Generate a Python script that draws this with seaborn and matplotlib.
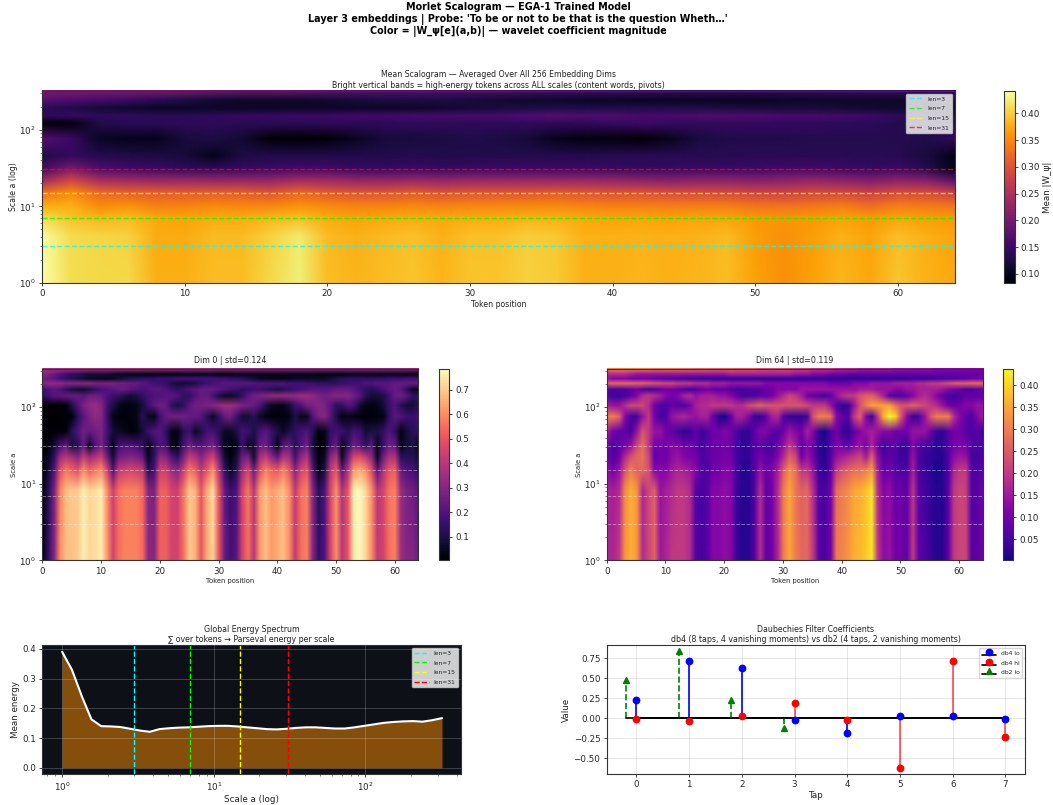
import numpy as np
import matplotlib
matplotlib.use("Agg")
import matplotlib.pyplot as plt
from matplotlib.image import NonUniformImage
import seaborn as sns

# ------------------------
# Data
# ------------------------
TOKENS = list(range(65))
TOKENS_EVEN = list(range(0, 65, 2))
LEN_SCALES = [3, 7, 15, 31]
LEN_LABELS = ["len=3", "len=7", "len=15", "len=31"]
LEN_COLORS = ["cyan", "lime", "yellow", "red"]

# Mean |W| in thousandths, one row per scale, one column per even token
MEAN_SCALES = [1, 4, 7, 10, 15, 22, 31, 45, 75, 120, 150, 190, 240, 320]
MEAN_GRID = [
    [442,412,408,408,378,378,388,388,408,426,388,382,388,393,382,393,393,402,398,380,380,383,380,383,388,368,355,368,383,373,393,380,373],
    [440,410,406,404,376,376,386,386,404,422,386,380,386,391,380,391,391,400,396,378,378,381,378,381,386,366,355,366,380,370,390,378,370],
    [410,392,382,386,372,370,376,376,382,388,376,370,372,376,372,376,376,380,378,372,370,370,368,370,370,362,358,362,368,362,370,366,362],
    [375,378,352,357,342,344,350,347,347,357,350,344,344,347,344,347,347,350,350,344,342,342,340,340,340,332,330,334,340,327,340,337,334],
    [325,350,318,312,308,306,308,306,298,316,304,298,298,304,296,300,300,300,304,300,296,294,288,288,286,280,280,286,286,276,288,288,272],
    [232,282,240,232,226,226,222,222,222,236,232,222,222,226,222,226,226,226,226,226,222,216,210,216,216,210,216,222,216,206,216,208,172],
    [155,200,165,155,150,140,138,145,150,155,155,145,145,150,145,150,150,150,150,150,147,145,145,150,150,150,155,155,150,145,150,132,98],
    [130,142,132,127,124,120,100,124,130,130,130,130,130,132,130,130,130,132,132,132,134,134,134,134,134,136,136,136,136,136,134,122,95],
    [170,150,105,100,100,120,125,115,90,85,90,105,120,122,125,128,125,118,100,94,92,88,102,122,128,130,130,132,132,132,132,130,140],
    [92,90,128,135,135,138,138,135,135,135,138,138,138,140,138,138,138,140,140,140,145,150,145,142,142,142,142,142,140,138,132,126,126],
    [140,145,140,140,135,135,140,145,145,150,150,155,155,158,160,160,160,165,170,165,165,160,160,165,165,165,160,160,155,150,140,128,122],
    [138,128,118,112,108,108,108,106,106,106,106,108,108,108,112,118,122,125,128,128,128,128,128,128,125,122,122,120,118,115,112,108,106],
    [175,165,160,150,135,125,115,110,110,110,115,120,125,125,125,120,115,112,110,108,108,105,105,105,105,105,108,110,110,110,110,112,115],
    [205,205,205,205,205,200,195,190,190,185,180,175,170,170,165,165,165,160,155,155,150,150,145,145,145,145,145,145,150,150,150,150,150],
]

# Dim panels in hundredths, one row per scale, one column per token
DIM_SCALES = [1, 8, 15, 22, 31, 48, 75, 105, 140, 170, 205, 235, 270, 320]
DIM0_GRID = [
    [3,15,30,60,68,68,70,76,72,73, 76,62,45,55,58,58,58,55,32,30, 52,52,45,45,55,70,66,50,65,72, 50,25,18,22,45,55,40,62,68,62, 65,68,60,42,55,58,30,15,20,45, 60,40,50,75,78,72,60,42,45,55, 58,35,30,30,25],
    [2,12,28,58,68,70,70,76,72,73, 76,60,44,55,58,58,58,54,30,28, 52,52,45,44,56,70,66,50,65,73, 50,24,16,20,45,56,40,62,68,62, 65,68,60,42,55,58,30,12,20,46, 60,38,50,76,78,72,60,40,45,56, 58,34,28,26,22],
    [2,8,20,48,56,52,48,60,52,56, 60,45,20,42,44,46,44,42,12,18, 44,44,34,30,42,56,52,40,50,60, 40,15,6,12,35,45,25,48,58,52, 50,58,50,30,45,50,22,4,10,40, 50,22,38,62,65,60,48,22,38,50, 52,24,20,18,14],
    [2,5,14,34,40,36,30,42,34,38, 44,26,8,26,28,30,28,24,5,14, 32,30,20,14,28,42,38,30,38,45, 28,8,2,8,25,28,8,36,42,32, 24,38,36,18,32,38,14,2,6,30, 38,6,26,46,48,42,32,6,26,38, 38,14,12,12,8],
    [1,2,8,18,24,10,12,24,6,20, 28,16,4,18,20,20,18,14,4,12, 20,18,4,4,18,26,22,20,24,28, 18,4,2,4,16,6,8,24,26,16, 4,22,24,12,20,26,10,1,3,18, 24,4,14,26,22,14,22,4,16,26, 24,4,8,10,5],
    [1,1,1,1,2,12,20,26,24,26, 28,18,8,6,4,2,3,8,16,20, 22,14,4,3,12,16,6,10,18,18, 12,6,6,10,18,16,10,18,22,16, 10,6,10,14,18,20,12,2,4,14, 18,16,12,18,16,8,10,10,14,20, 14,3,8,12,14],
    [1,1,0,0,1,2,12,22,28,32, 30,16,4,2,2,3,4,12,6,4, 16,24,26,26,26,24,24,22,12,6, 14,24,26,18,8,8,12,6,3,2, 2,2,3,10,5,5,20,28,30,22, 10,3,4,3,2,1,1,2,3,14, 22,20,16,16,18],
    [1,1,1,1,2,10,20,28,32,34, 30,18,10,5,3,3,4,8,16,22, 26,24,14,10,14,22,26,26,28,30, 32,34,34,32,28,26,24,20,10,5, 4,4,8,16,20,26,28,30,28,22, 14,14,20,18,8,4,3,4,8,16, 20,12,8,8,12],
    [14,18,22,22,24,24,24,22,26,26, 24,20,16,14,10,8,10,14,18,20, 20,22,22,20,14,14,20,24,24,18, 10,6,6,8,14,22,26,28,30,32, 32,32,32,32,34,34,32,28,26,28, 30,30,30,26,22,12,8,8,10,16, 24,26,22,14,14],
    [18,20,22,20,14,10,8,8,10,14, 18,20,22,24,24,22,20,18,20,22, 22,20,16,14,16,20,22,24,24,24, 22,20,18,16,14,14,16,16,14,12, 10,12,14,16,18,20,22,22,22,22, 24,24,24,22,18,14,12,14,18,22, 24,22,14,6,4],
    [30,32,32,32,30,30,30,30,30,28, 28,28,28,26,26,24,24,22,20,18, 16,14,10,8,8,8,10,14,16,18, 20,22,22,22,22,22,20,20,20,20, 20,20,18,18,18,16,16,14,14,14, 14,16,16,18,18,20,20,22,22,22, 24,24,24,24,24],
    [26,24,22,18,14,12,10,8,6,5, 5,5,6,8,10,12,12,14,14,14, 16,16,16,18,18,18,18,18,18,18, 16,16,14,14,12,10,8,6,5,4, 4,4,5,6,6,6,6,6,6,8, 10,12,14,14,14,14,14,14,14,16, 16,16,18,18,18],
    [30,28,24,20,16,14,12,10,8,8, 8,8,6,5,4,3,3,3,3,3, 3,3,3,3,4,4,4,4,4,4, 3,3,3,4,4,4,4,4,4,4, 4,4,4,4,4,4,4,3,3,3, 3,3,3,4,4,4,4,4,4,4, 4,4,3,3,3],
    [37,37,37,37,37,37,37,37,37,37, 36,36,36,36,36,36,36,35,35,35, 35,35,35,34,34,34,34,34,34,33, 33,33,33,33,33,33,33,33,32,32, 32,32,32,32,32,32,32,32,32,32, 32,32,32,32,32,32,32,32,32,32, 32,32,32,32,32],
]
DIM64_GRID = [
    [17,17,20,33,36,33,18,22,26,15, 17,20,20,20,18,7,5,7,12,12, 13,12,4,2,2,7,18,8,10,17, 30,35,30,27,27,20,7,6,10,30, 31,33,36,37,39,42,20,13,14,10, 10,8,20,8,6,4,2,2,8,20, 22,22,7,8,10],
    [17,16,18,32,36,33,17,22,26,14, 16,18,20,20,18,7,5,7,12,12, 13,12,4,2,2,6,18,8,10,18, 30,35,29,26,27,18,6,5,10,28, 30,32,35,36,38,42,18,12,13,9, 9,8,19,7,5,3,2,2,7,20, 22,21,6,7,10],
    [13,10,14,24,30,26,27,24,12,12, 12,15,17,16,15,12,6,6,10,10, 12,11,5,2,2,6,14,9,11,16, 26,32,28,20,20,14,4,3,8,20, 24,26,28,28,30,34,16,8,10,7, 6,6,16,6,4,3,1,2,6,17, 20,20,6,6,8],
    [10,6,10,18,24,27,28,22,8,10, 9,13,14,12,11,10,6,7,9,9, 11,10,5,3,3,7,10,8,8,12, 18,26,22,10,14,10,3,2,7,14, 16,18,20,22,16,26,13,6,8,6, 4,4,14,6,4,3,2,2,6,13, 15,14,5,5,6],
    [10,5,8,10,14,22,28,20,10,10, 10,12,12,10,10,8,5,7,9,9, 10,9,5,3,3,6,8,5,5,9, 14,20,16,7,12,9,3,2,6,11, 10,7,12,14,10,17,10,4,7,7, 4,4,12,7,5,4,2,3,7,10, 11,10,6,6,5],
    [16,10,8,8,5,14,24,20,14,14, 10,8,5,3,4,8,4,6,10,10, 12,10,6,3,3,8,12,12,8,6, 10,14,12,10,16,12,3,1,6,10, 4,3,8,12,14,16,14,12,12,10, 10,10,14,14,14,10,4,3,7,10, 10,7,6,7,3],
    [30,30,26,12,5,5,14,20,10,5, 6,14,16,17,15,14,16,16,8,2, 1,8,16,16,12,4,3,8,16,17, 6,3,3,3,5,24,30,30,28,12, 8,6,20,26,12,4,20,36,44,40, 24,12,4,5,14,24,30,30,30,18, 12,8,6,12,16],
    [16,14,14,18,22,22,22,18,10,6, 6,8,6,6,10,16,18,18,20,20, 20,20,18,18,22,24,26,24,24,24, 24,24,24,24,22,20,20,20,14,6, 3,4,14,24,30,34,34,34,34,28, 24,24,26,24,22,20,18,14,10,8, 10,12,12,14,14],
    [6,4,4,5,8,12,18,20,18,16, 12,10,12,16,18,14,16,16,16,14, 14,12,8,5,5,5,8,8,10,14, 18,22,20,16,10,8,6,5,8,14, 18,20,20,24,26,26,22,16,8,6, 6,8,12,16,18,16,12,8,5,5, 6,8,8,8,8],
    [6,6,6,6,8,10,6,5,6,8, 10,10,8,6,5,6,8,10,8,8, 8,6,5,5,6,6,6,8,10,12, 12,12,12,14,14,14,14,14,14,14, 14,14,14,16,16,16,14,14,14,12, 12,14,14,16,16,16,16,14,12,10, 8,6,6,8,8],
    [26,27,27,27,27,26,26,25,24,23, 22,22,20,20,20,18,18,18,16,16, 16,14,14,14,14,14,14,12,12,12, 12,12,12,12,12,12,12,12,10,10, 10,10,12,12,12,14,14,14,14,16, 16,16,16,18,18,20,20,22,23,25, 26,26,27,27,27],
    [14,12,12,12,10,10,10,10,8,8, 6,6,5,5,4,4,3,3,3,3, 3,3,3,3,3,3,3,3,3,3, 3,3,3,3,3,3,3,3,3,3, 3,3,3,3,3,3,3,3,3,3, 3,4,4,4,4,5,5,5,6,6, 8,8,10,10,10],
    [18,18,18,18,16,14,14,14,14,14, 14,14,14,14,14,14,14,14,14,14, 14,16,16,16,16,16,16,16,16,16, 16,16,14,14,14,12,12,12,10,10, 10,8,8,8,8,8,8,8,8,8, 8,8,8,8,8,8,8,8,8,8, 8,8,8,8,8],
    [31,31,31,31,31,31,31,31,30,30, 30,30,30,29,29,28,28,28,27,27, 27,27,26,26,26,26,24,24,24,24, 24,24,22,22,22,20,20,20,20,18, 18,18,18,16,16,16,16,16,16,14, 14,14,14,14,14,14,12,12,12,12, 12,12,12,12,12],
]

ENERGY_SCALES = [1, 1.16, 1.35, 1.56, 1.81, 2.1, 2.43, 2.82, 3.27, 3.79,
                 4.39, 5.09, 5.9, 6.84, 7.93, 9.2, 10.7, 12.4, 14.3, 16.6,
                 19.3, 22.4, 25.9, 30.1, 34.9, 40.4, 46.9, 54.4, 63.0, 73.1,
                 84.8, 98.3, 114, 132, 153, 177, 206, 238, 276, 320]
ENERGY = [.390, .330, .240, .163, .140, .139, .137, .131, .125, .121,
          .130, .133, .135, .136, .138, .140, .141, .141, .139, .136,
          .133, .130, .129, .131, .134, .136, .136, .134, .132, .132,
          .136, .141, .146, .151, .154, .156, .157, .155, .160, .167]

DB4_LO = [0.2304, 0.7148, 0.6309, -0.0280, -0.1870, 0.0308, 0.0329, -0.0106]
DB4_HI = [-0.0106, -0.0329, 0.0308, 0.1870, -0.0280, -0.6309, 0.7148, -0.2304]
DB2_LO = [0.4830, 0.8365, 0.2241, -0.1294]
TAPS = list(range(8))

W, H = 1053, 805

sns.set_theme(style="ticks", font="DejaVu Sans", color_codes=False, rc={
    "axes.linewidth": 0.8, "axes.edgecolor": "#333333",
    "xtick.labelsize": 6.3, "ytick.labelsize": 6.3,
    "xtick.major.size": 2.5, "ytick.major.size": 2.5,
    "xtick.minor.size": 1.5, "ytick.minor.size": 1.5,
    "xtick.major.width": 0.6, "ytick.major.width": 0.6,
    "xtick.minor.width": 0.4, "ytick.minor.width": 0.4,
    "xtick.major.pad": 2, "ytick.major.pad": 2,
    "text.color": "#222222", "axes.labelcolor": "#222222",
})


def px_axes(fig, x0, y0, x1, y1):
    # pixel box from the top left corner
    return fig.add_axes([x0 / W, 1 - y1 / H, (x1 - x0) / W, (y1 - y0) / H])


def scalogram(fig, box, cbox, tokens, scales, grid, cmap, vmin, vmax):
    ax = px_axes(fig, *box)
    ax.set_yscale("log")
    ax.set_xlim(0, 64)
    ax.set_ylim(1, 320)
    ax.patch.set_visible(False)

    # the image sits on a linear log10 axis behind the log axis, so it can be smooth
    log_y = np.log10(scales)
    back = ax.inset_axes([0, 0, 1, 1], zorder=0.5)
    back.axis("off")
    im = NonUniformImage(back, interpolation="bilinear",
                         cmap=sns.color_palette(cmap, as_cmap=True))
    im.set_data(tokens, log_y, grid)
    im.set_clim(vmin, vmax)
    back.add_image(im)
    back.set_xlim(0, 64)
    back.set_ylim(log_y[0], log_y[-1])
    back.set_xticks([])
    back.set_yticks([])

    cax = px_axes(fig, *cbox)
    cb = fig.colorbar(im, cax=cax)
    cb.ax.tick_params(labelsize=6.3, length=2.5, width=0.6, pad=2)
    cb.outline.set_linewidth(0.8)
    return ax, cb


fig = plt.figure(figsize=(W / 100, H / 100), dpi=100)

fig.text(518 / W, 1 - 2 / H,
         "Morlet Scalogram — EGA-1 Trained Model\n"
         "Layer 3 embeddings | Probe: 'To be or not to be that is the question Wheth…'\n"
         "Color = |W_ψ[e](a,b)| — wavelet coefficient magnitude",
         ha="center", va="top", fontsize=6.9, fontweight="bold", color="black", linespacing=1.2)

# ------------------------
# Mean scalogram
# ------------------------
mean_z = np.array(MEAN_GRID) / 1000
ax, cb = scalogram(fig, (42, 91, 955, 283), (1004, 91, 1014.5, 283),
                   TOKENS_EVEN, MEAN_SCALES, mean_z, "inferno", 0.083, 0.442)
cb.set_label("Mean |W_ψ|", fontsize=6.3, labelpad=2)
cb.set_ticks([.10, .15, .20, .25, .30, .35, .40])
for s, lab, c in zip(LEN_SCALES, LEN_LABELS, LEN_COLORS):
    ax.axhline(s, color=c, ls="--", lw=1.0, alpha=0.75, label=lab)
ax.legend(loc="upper right", fontsize=4.3, borderpad=0.4, labelspacing=0.75, handlelength=2.4, fancybox=True)
ax.set_title("Mean Scalogram — Averaged Over All 256 Embedding Dims\n"
             "Bright vertical bands = high-energy tokens across ALL scales (content words, pivots)",
             fontsize=5.6, pad=2.5, linespacing=1.15)
ax.set_xlabel("Token position", fontsize=5.6, labelpad=1.5)
ax.set_ylabel("Scale a (log)", fontsize=5.6, labelpad=0.5)

# ------------------------
# Single dimensions
# ------------------------
panels = [
    ((42.3, 368.5, 418.3, 560.3), (439.3, 368.5, 449.3, 560.3), DIM0_GRID, "magma", 0.003, 0.786, "Dim 0 | std=0.124"),
    ((606.7, 368.5, 982.7, 560.3), (1003.3, 368.5, 1013.3, 560.3), DIM64_GRID, "plasma", 0.002, 0.438, "Dim 64 | std=0.119"),
]
for box, cbox, grid, cmap, vmin, vmax, title in panels:
    ax, cb = scalogram(fig, box, cbox, TOKENS, DIM_SCALES, np.array(grid) / 100, cmap, vmin, vmax)
    for s in LEN_SCALES:
        ax.axhline(s, color="white", ls="--", lw=0.7, alpha=0.4)
    ax.set_title(title, fontsize=5.7, pad=4)
    ax.set_xlabel("Token position", fontsize=4.9, labelpad=2)
    ax.set_ylabel("Scale a", fontsize=4.9, labelpad=1.5)

# ------------------------
# Global energy spectrum
# ------------------------
ax = px_axes(fig, 42.3, 645.3, 460.7, 774)
ax.set_facecolor("#0d1117")
ax.set_xscale("log")
ax.fill_between(ENERGY_SCALES, ENERGY, color="darkorange", alpha=0.5, lw=0)
sns.lineplot(x=ENERGY_SCALES, y=ENERGY, color="white", linewidth=1.5, errorbar=None, ax=ax)
for s, lab, c in zip(LEN_SCALES, LEN_LABELS, LEN_COLORS):
    ax.axvline(s, color=c, ls="--", lw=1.0, label=lab)
ax.grid(True, which="major", color="white", alpha=0.2, lw=0.7)
ax.set_axisbelow(False)
ax.set_xlim(0.74, 425)
ax.set_ylim(-0.021, 0.412)
ax.legend(loc="upper right", fontsize=4.3, borderpad=0.4, labelspacing=0.75, handlelength=2.4)
ax.set_title("Global Energy Spectrum\n∑ over tokens → Parseval energy per scale", fontsize=5.7, pad=2.5, linespacing=1.15)
ax.set_xlabel("Scale a (log)", fontsize=6.3, labelpad=1.5)
ax.set_ylabel("Mean energy", fontsize=6.3, labelpad=1.5)

# ------------------------
# Daubechies filters
# ------------------------
ax = px_axes(fig, 606.7, 645.3, 1025, 774)
stems = [
    (TAPS, DB4_LO, "blue", "-", "o", "db4 lo", 1.0),
    (TAPS, DB4_HI, "red", "-", "o", "db4 hi", 0.7),
    ([t - 0.2 for t in range(4)], DB2_LO, "green", "--", "^", "db2 lo", 1.0),
]
for xs, ys, col, ls, mk, lab, a in stems:
    markers, lines, base = ax.stem(xs, ys, linefmt=ls, markerfmt=mk, basefmt="-", label=lab)
    markers.set_color(col)
    markers.set_markersize(4.6)
    markers.set_zorder(4)
    lines.set_color(col)
    lines.set_linewidth(1.2)
    lines.set_alpha(a)
    base.set_color("black")
    base.set_linewidth(1.2)
ax.grid(True, color="#888888", alpha=0.2, lw=0.7)
ax.set_xlim(-0.563, 7.37)
ax.set_ylim(-0.70, 0.913)
ax.legend(loc="upper right", fontsize=4.3, borderpad=0.4, labelspacing=0.75, handlelength=2.4)
ax.set_title("Daubechies Filter Coefficients\n"
             "db4 (8 taps, 4 vanishing moments) vs db2 (4 taps, 2 vanishing moments)",
             fontsize=5.7, pad=2.5, linespacing=1.15)
ax.set_xlabel("Tap", fontsize=6.3, labelpad=1.5)
ax.set_ylabel("Value", fontsize=6.3, labelpad=2)

fig.savefig("out.png", dpi=100)
